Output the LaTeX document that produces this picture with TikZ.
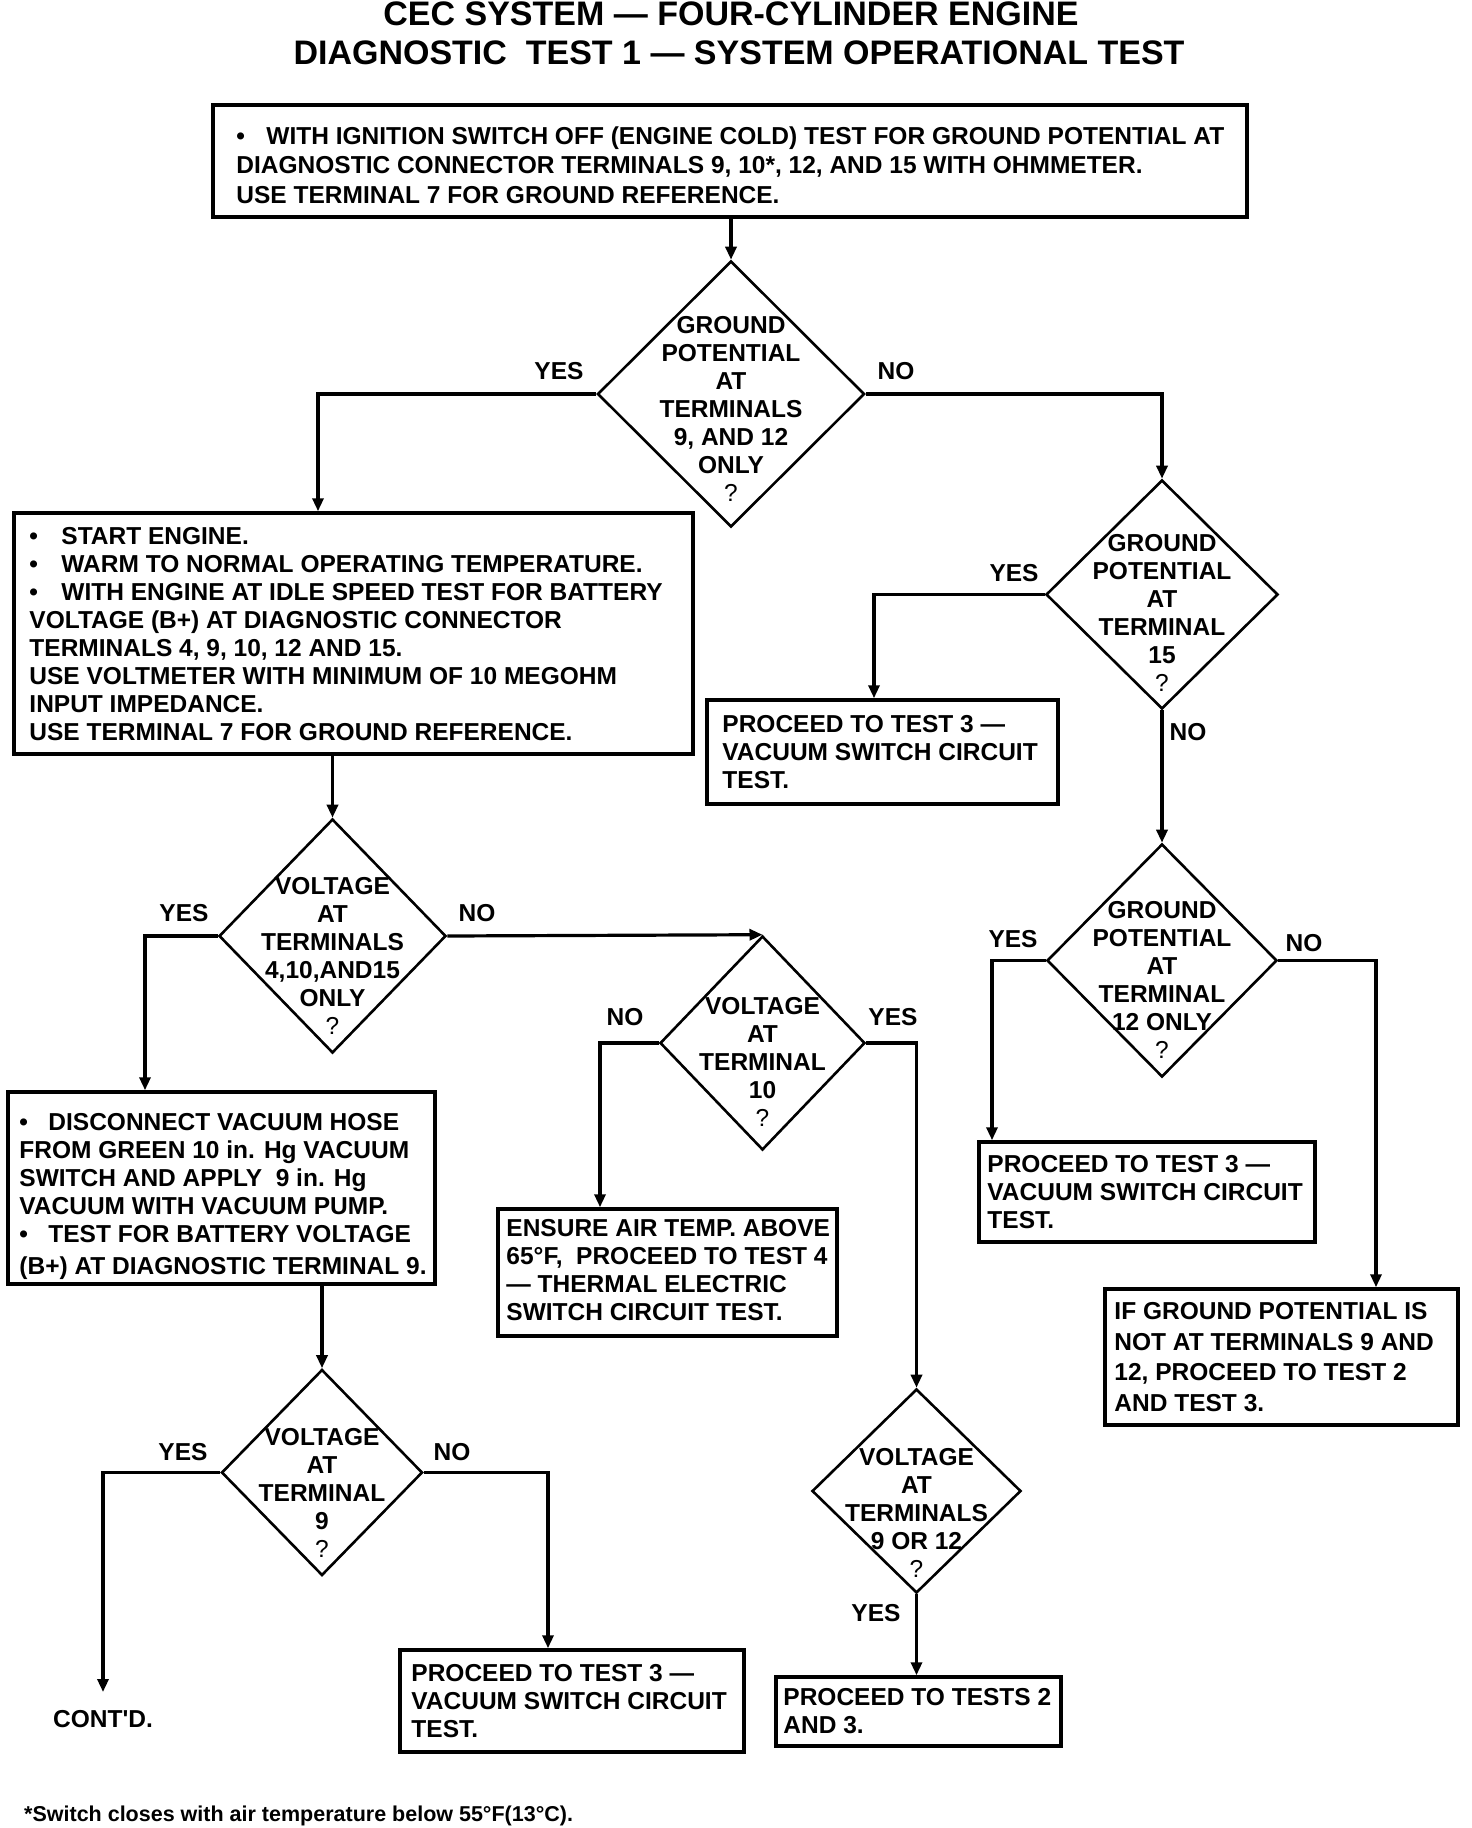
\documentclass[tikz,border=0pt]{standalone}
\usepackage{fontspec}
\setmainfont{Liberation Sans}
\usetikzlibrary{arrows.meta,shapes.geometric}
\tikzset{
  box/.style={draw, line width=3.5pt, inner sep=0pt},
  dia/.style={draw, diamond, line width=2.6pt, inner sep=0pt, aspect=1},
  btext/.style={font=\bfseries\fontsize{24.5}{28}\selectfont, align=left, inner sep=0pt, anchor=west},
  dtext/.style={font=\bfseries\fontsize{24.5}{28}\selectfont, align=center, inner sep=0pt},
  lbl/.style={font=\bfseries\fontsize{24.5}{28}\selectfont, inner sep=0pt},
  ttl/.style={font=\bfseries\fontsize{34}{40}\selectfont, inner sep=0pt, anchor=base},
  conn/.style={line width=3.2pt},
  arr/.style={conn, -{Triangle[length=13pt,width=11pt]}},
}
\newcommand{\bul}[1]{\makebox[#1][l]{•}}
\begin{document}
\begin{tikzpicture}[x=1pt,y=-1pt]
\path[fill=white] (0,0) rectangle (1472,1828);
\useasboundingbox (0,0) rectangle (1472,1828);

% titles
\node[ttl] (t1) at (731,25.5) {CEC SYSTEM — FOUR-CYLINDER ENGINE};
\node[ttl] (t2) at (739,64) {DIAGNOSTIC\ \ TEST 1 — SYSTEM OPERATIONAL TEST};

% boxes
\node[box, minimum width=1034, minimum height=112] (b1) at (730,161) {};
\node[btext, font=\bfseries\fontsize{24.5}{29.5}\selectfont] (b1t) at ([xshift=25pt,yshift=-4pt]b1.west)
 {\bul{30pt}WITH IGNITION SWITCH OFF (ENGINE COLD) TEST FOR GROUND POTENTIAL AT\\
  DIAGNOSTIC CONNECTOR TERMINALS 9, 10*, 12, AND 15 WITH OHMMETER.\\
  USE TERMINAL 7 FOR GROUND REFERENCE.};

\node[box, minimum width=679, minimum height=241] (b2) at (353.5,633.5) {};
\node[btext] (b2t) at ([xshift=17pt,yshift=-1pt]b2.west)
 {\bul{32pt}START ENGINE.\\
  \bul{32pt}WARM TO NORMAL OPERATING TEMPERATURE.\\
  \bul{32pt}WITH ENGINE AT IDLE SPEED TEST FOR BATTERY\\
  VOLTAGE (B+) AT DIAGNOSTIC CONNECTOR\\
  TERMINALS 4, 9, 10, 12 AND 15.\\
  USE VOLTMETER WITH MINIMUM OF 10 MEGOHM\\
  INPUT IMPEDANCE.\\
  USE TERMINAL 7 FOR GROUND REFERENCE.};

\node[box, minimum width=351, minimum height=104] (b3) at (882.5,752) {};
\node[btext] (b3t) at ([xshift=17pt]b3.west)
 {PROCEED TO TEST 3 —\\VACUUM SWITCH CIRCUIT\\TEST.};

\node[box, minimum width=427, minimum height=192] (b4) at (221.5,1188) {};
\node[btext] (b4t) at ([xshift=13pt,yshift=-8pt]b4.west)
 {\bul{29pt}DISCONNECT VACUUM HOSE\\
  FROM GREEN 10 in. Hg VACUUM\\
  SWITCH AND APPLY\ \ 9 in. Hg\\
  VACUUM WITH VACUUM PUMP.\\
  \bul{29pt}TEST FOR BATTERY VOLTAGE\\[4pt]
  (B+) AT DIAGNOSTIC TERMINAL 9.};

\node[box, minimum width=339, minimum height=127] (b6) at (667.5,1272.5) {};
\node[btext] (b6t) at ([xshift=10pt,yshift=2pt]b6.west)
 {ENSURE AIR TEMP. ABOVE\\65°F,\ \ PROCEED TO TEST 4\\— THERMAL ELECTRIC\\SWITCH CIRCUIT TEST.};

\node[box, minimum width=344, minimum height=102] (b9) at (572,1701) {};
\node[btext] (b9t) at ([xshift=13pt]b9.west)
 {PROCEED TO TEST 3 —\\VACUUM SWITCH CIRCUIT\\TEST.};

\node[box, minimum width=285, minimum height=69] (b10) at (918.5,1711.5) {};
\node[btext] (b10t) at ([xshift=9pt]b10.west)
 {PROCEED TO TESTS 2\\AND 3.};

\node[box, minimum width=336, minimum height=100] (b11) at (1147,1192) {};
\node[btext] (b11t) at ([xshift=10pt]b11.west)
 {PROCEED TO TEST 3 —\\VACUUM SWITCH CIRCUIT\\TEST.};

\node[box, minimum width=353, minimum height=136] (b12) at (1281.5,1357) {};
\node[btext, font=\bfseries\fontsize{24.5}{30.5}\selectfont] (b12t) at ([xshift=11pt]b12.west)
 {IF GROUND POTENTIAL IS\\NOT AT TERMINALS 9 AND\\12, PROCEED TO TEST 2\\AND TEST 3.};

% diamonds
\node[dia, minimum width=267, minimum height=266] (d1) at (731,394) {};
\node[dtext] (d1t) at ([yshift=-15pt]d1.center)
 {GROUND\\POTENTIAL\\AT\\TERMINALS\\9, AND 12\\ONLY\\{\mdseries ?}};

\node[dia, minimum width=232, minimum height=229] (d2) at (1162,594.5) {};
\node[dtext] (d2t) at ([yshift=-18pt]d2.center)
 {GROUND\\POTENTIAL\\AT\\TERMINAL\\15\\{\mdseries ?}};

\node[dia, minimum width=227, minimum height=234] (d3) at (332.5,936) {};
\node[dtext] (d3t) at ([yshift=-20pt]d3.center)
 {VOLTAGE\\AT\\TERMINALS\\4,10,AND15\\ONLY\\{\mdseries ?}};

\node[dia, minimum width=205, minimum height=214] (d5) at (762.5,1043) {};
\node[dtext] (d5t) at ([yshift=-19pt]d5.center)
 {VOLTAGE\\AT\\TERMINAL\\10\\{\mdseries ?}};

\node[dia, minimum width=230, minimum height=233] (d4) at (1162,960.5) {};
\node[dtext] (d4t) at ([yshift=-19pt]d4.center)
 {GROUND\\POTENTIAL\\AT\\TERMINAL\\12 ONLY\\{\mdseries ?}};

\node[dia, minimum width=201, minimum height=206] (d8) at (322,1472.5) {};
\node[dtext] (d8t) at ([yshift=-20pt]d8.center)
 {VOLTAGE\\AT\\TERMINAL\\9\\{\mdseries ?}};

\node[dia, minimum width=209, minimum height=204] (d7) at (916.5,1491) {};
\node[dtext] (d7t) at ([yshift=-22pt]d7.center)
 {VOLTAGE\\AT\\TERMINALS\\9 OR 12\\{\mdseries ?}};

% bend x-positions
\coordinate (x1) at (318,0);
\coordinate (x3) at (874,0);
\coordinate (x4) at (145,0);
\coordinate (x6) at (600,0);
\coordinate (x9) at (548,0);
\coordinate (x11) at (992,0);
\coordinate (x12) at (1376,0);
\coordinate (cont) at (103,1692);

% connectors
\draw[arr] (d1.north |- b1.south) -- (d1.north);
\draw[arr] (d1.west) -| (x1 |- b2.north);
\draw[arr] (d1.east) -| (d2.north);
\draw[arr] (d2.west) -| (x3 |- b3.north);
\draw[arr] (d2.south) -- (d4.north);
\draw[arr] (d3.north |- b2.south) -- (d3.north);
\draw[arr] (d3.west) -| (x4 |- b4.north);
\draw[arr] (d3.east) -- (d5.north);
\draw[arr] (d5.west) -| (x6 |- b6.north);
\draw[arr] (d5.east) -| (d7.north);
\draw[arr] (d7.south) -- (d7.south |- b10.north);
\draw[arr] (d8.north |- b4.south) -- (d8.north);
\draw[arr] (d8.west) -| (cont);
\draw[arr] (d8.east) -| (x9 |- b9.north);
\draw[arr] (d4.west) -| (x11 |- b11.north);
\draw[arr] (d4.east) -| (x12 |- b12.north);

% labels
\node[lbl] (l1y) at (559,371) {YES};
\node[lbl] (l1n) at (896,371) {NO};
\node[lbl] (l2y) at (1014,573) {YES};
\node[lbl] (l2n) at (1188,732) {NO};
\node[lbl] (l3y) at (184,913) {YES};
\node[lbl] (l3n) at (477,913) {NO};
\node[lbl] (l5n) at (625,1017) {NO};
\node[lbl] (l5y) at (893,1017) {YES};
\node[lbl] (l4y) at (1013,939) {YES};
\node[lbl] (l4n) at (1304,943) {NO};
\node[lbl] (l8y) at (183,1452) {YES};
\node[lbl] (l8n) at (452,1452) {NO};
\node[lbl] (l7y) at (876,1613) {YES};
\node[lbl] (contd) at (103,1719) {CONT\textquotesingle D.};

% footnote
\node[font=\bfseries\fontsize{21.5}{26}\selectfont, inner sep=0pt, anchor=base west] (fn) at (24,1821)
 {*Switch closes with air temperature below 55°F(13°C).};
\end{tikzpicture}
\end{document}
